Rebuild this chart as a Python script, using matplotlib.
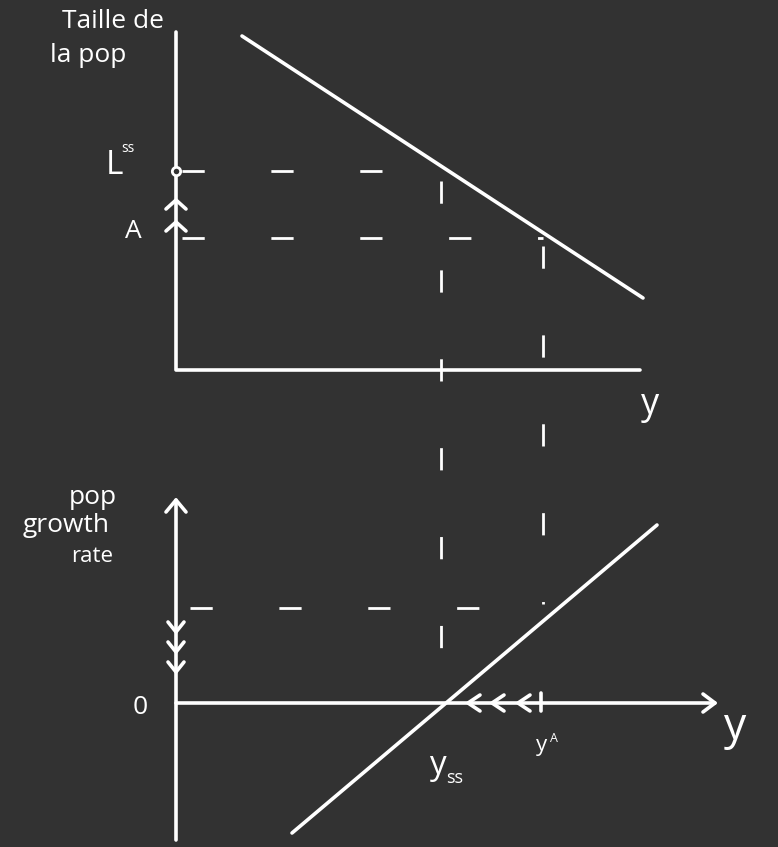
import matplotlib
matplotlib.use("Agg")
import matplotlib.pyplot as plt

# Diagramme (coordonnées en pixels de l'image, y vers le bas)
bg = '#323232'
fg = 'white'

# panneau du haut : taille de la population
top_axis_x = [176, 176, 640]
top_axis_y = [32, 370, 370]
pop_line_x = [242, 643]
pop_line_y = [36, 298]
L_ss = 171
A_level = 238
y_ss = 441
y_A = 543

# panneau du bas : taux de croissance
bot_yaxis_top = 500
bot_yaxis_bottom = 840
zero_level = 703
xaxis_end = 715
growth_line_x = [292, 657]
growth_line_y = [833, 525]
growth_A = 608
up_chevrons = [200, 222]
down_chevrons = [632, 652, 672]
left_chevrons = [468, 492, 518]

fig = plt.figure(figsize=(7.78, 8.47), dpi=100)
fig.patch.set_facecolor(bg)
ax = fig.add_axes([0, 0, 1, 1])
ax.set_facecolor(bg)
ax.set_xlim(0, 778)
ax.set_ylim(847, 0)
ax.axis('off')

lw = 2.6
kw = dict(color=fg, lw=lw, solid_capstyle='round')
dkw = dict(color=fg, lw=2.0, dashes=(8, 24))

# axes du haut
ax.plot(top_axis_x, top_axis_y, **kw)
ax.plot(pop_line_x, pop_line_y, **kw)

# pointillés
ax.plot([182, y_ss], [L_ss, L_ss], **dkw)
ax.plot([182, y_A], [A_level, A_level], **dkw)
ax.plot([y_ss, y_ss], [L_ss + 10, 668], **dkw)
ax.plot([y_A, y_A], [A_level + 8, growth_A - 4], **dkw)
ax.plot([190, y_A], [growth_A, growth_A], **dkw)

# point L^ss
ax.plot(176, L_ss, 'o', ms=6, mfc=bg, mec=fg, mew=2)

# chevrons vers le haut
for c in up_chevrons:
    ax.plot([166, 176, 186], [c + 9, c, c + 9], **kw)

# axes du bas
ax.plot([176, 176], [bot_yaxis_top, bot_yaxis_bottom], **kw)
ax.plot([166, 176, 186], [bot_yaxis_top + 12, bot_yaxis_top, bot_yaxis_top + 12], **kw)
ax.plot([176, xaxis_end], [zero_level, zero_level], **kw)
ax.plot([xaxis_end - 12, xaxis_end, xaxis_end - 12],
        [zero_level - 9, zero_level, zero_level + 9], **kw)
ax.plot(growth_line_x, growth_line_y, **kw)

for c in down_chevrons:
    ax.plot([168, 176, 184], [c - 10, c, c - 10], **kw)
for c in left_chevrons:
    ax.plot([c + 12, c, c + 12], [zero_level - 8, zero_level, zero_level + 8], **kw)
ax.plot([y_A - 2, y_A - 2], [zero_level - 10, zero_level + 8], **kw)

# textes
tkw = dict(color=fg, family='Open Sans', fontsize=19)
ax.text(62, 22, 'Taille de', va='center', ha='left', **tkw)
ax.text(50, 56, 'la pop', va='center', ha='left', **tkw)
ax.text(106, 166, 'L', va='center', ha='left', color=fg, family='Open Sans', fontsize=24)
ax.text(121, 149, 'ss', va='center', ha='left', color=fg, family='Open Sans', fontsize=10)
ax.text(125, 232, 'A', va='center', ha='left', **tkw)
ax.text(650, 405, 'y', va='center', ha='center', color=fg, family='Open Sans', fontsize=26)
ax.text(93, 497, 'pop', va='center', ha='center', **tkw)
ax.text(66, 526, 'growth', va='center', ha='center', **tkw)
ax.text(92, 556, 'rate', va='center', ha='center', color=fg, family='Open Sans', fontsize=16)
ax.text(140, 708, '0', va='center', ha='center', **tkw)
ax.text(437, 766, 'y', va='center', ha='center', color=fg, family='Open Sans', fontsize=24)
ax.text(455, 778, 'ss', va='center', ha='center', color=fg, family='Open Sans', fontsize=13)
ax.text(542, 746, 'y', va='center', ha='center', color=fg, family='Open Sans', fontsize=16)
ax.text(554, 738, 'A', va='center', ha='center', color=fg, family='Open Sans', fontsize=9)
ax.text(735, 728, 'y', va='center', ha='center', color=fg, family='Open Sans', fontsize=32)

fig.savefig('out.png', dpi=100, facecolor=bg)
